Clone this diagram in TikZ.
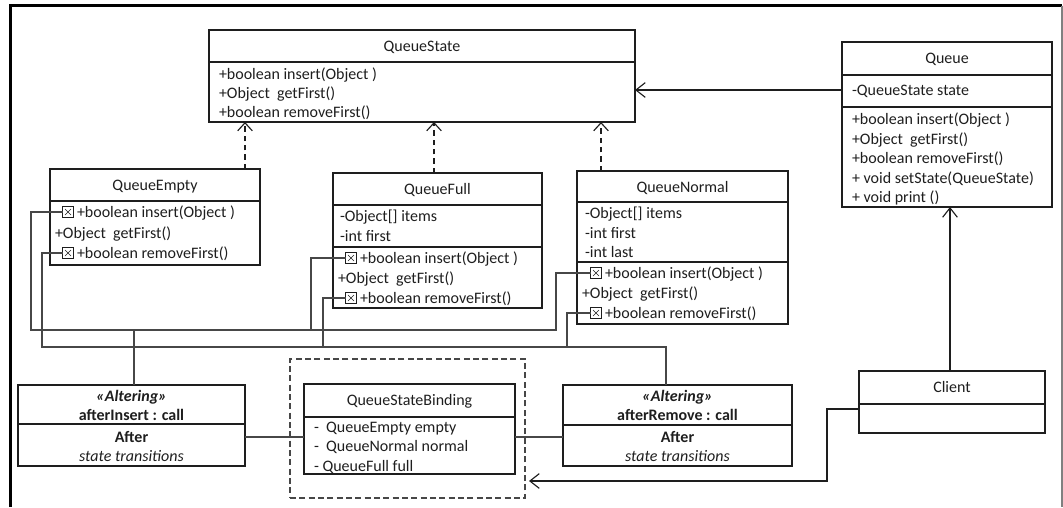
\documentclass[tikz,border=0pt]{standalone}
\usepackage{fontspec}
\setmainfont{Carlito}
\usetikzlibrary{arrows.meta,fit}
\definecolor{ink}{HTML}{1E1E1E}
\definecolor{wirec}{HTML}{474747}
\newcommand\umlfont{\fontsize{12}{14}\selectfont}

\begin{document}
\begin{tikzpicture}[x=0.75pt,y=-0.75pt,
  every node/.style={inner sep=0pt, outer sep=0pt},
  box/.style={draw=ink, line width=0.85pt, fit={#1}},
  sep/.style={draw=ink, line width=0.85pt},
  lbl/.style={anchor=base west, text=ink, font=\umlfont},
  ttl/.style={anchor=base, text=ink, font=\umlfont},
  xicon/.style={draw=ink, line width=0.55pt, minimum size=8pt,
    path picture={\draw[line width=0.5pt]
      ([shift={(1.8pt,1.8pt)}]path picture bounding box.south west) --
      ([shift={(-1.8pt,-1.8pt)}]path picture bounding box.north east)
      ([shift={(1.8pt,-1.8pt)}]path picture bounding box.north west) --
      ([shift={(-1.8pt,1.8pt)}]path picture bounding box.south east);}},
  real/.style={draw=ink, line width=0.85pt, dash pattern=on 4pt off 3pt,
    -{Straight Barb[length=6pt,width=11pt]}},
  assoc/.style={draw=ink, line width=0.85pt, -{Straight Barb[length=7pt,width=11pt]}},
  wire/.style={draw=wirec, line width=0.85pt},
  group/.style={draw=wirec, line width=0.9pt, dash pattern=on 4.5pt off 2.5pt, fit={#1}},
]
\useasboundingbox (0,0) rectangle (1063,507);

% outer frame
\draw[line width=1.6pt, draw=black] (10.5,507) -- (10.5,5.5) -- (1062,5.5);
\draw[line width=0.8pt, draw=gray] (1062,5.5) -- (1062,507);

% ---------- QueueState ----------
\node[box={(209,30)(635,122)}] (qs) {};
\draw[sep] (qs.west |- 0,62) -- (qs.east |- 0,62);
\node[ttl] (qs-t) at (422,51) {QueueState};
\node[lbl] (qs-1) at (219,79) {+boolean insert(Object )};
\node[lbl] (qs-2) at (219,98) {+Object\ \ getFirst()};
\node[lbl] (qs-3) at (219,117) {+boolean removeFirst()};

% ---------- Queue ----------
\node[box={(842,42)(1052,207)}] (q) {};
\draw[sep] (q.west |- 0,75) -- (q.east |- 0,75);
\draw[sep] (q.west |- 0,107) -- (q.east |- 0,107);
\node[ttl] (q-t) at (947,63) {Queue};
\node[lbl] (q-a) at (852,95) {-QueueState state};
\node[lbl] (q-1) at (852,124) {+boolean insert(Object )};
\node[lbl] (q-2) at (852,144) {+Object\ \ getFirst()};
\node[lbl] (q-3) at (852,163) {+boolean removeFirst()};
\node[lbl] (q-4) at (852,183) {+ void setState(QueueState)};
\node[lbl] (q-5) at (852,202) {+ void print ()};

% ---------- QueueEmpty ----------
\node[box={(50,169)(260,265)}] (qe) {};
\draw[sep] (qe.west |- 0,201) -- (qe.east |- 0,201);
\node[ttl] (qe-t) at (155,190) {QueueEmpty};
\node[xicon] (ei) at (68,212) {};
\node[lbl] (qe-1) at (77,217) {+boolean insert(Object )};
\node[lbl] (qe-2) at (55,238) {+Object\ \ getFirst()};
\node[xicon] (er) at (68,253) {};
\node[lbl] (qe-3) at (77,258) {+boolean removeFirst()};

% ---------- QueueFull ----------
\node[box={(333,173)(542,308)}] (qf) {};
\draw[sep] (qf.west |- 0,205) -- (qf.east |- 0,205);
\draw[sep] (qf.west |- 0,247) -- (qf.east |- 0,247);
\node[ttl] (qf-t) at (437.5,194) {QueueFull};
\node[lbl] (qf-a) at (340,221) {-Object[] items};
\node[lbl] (qf-b) at (340,241) {-int first};
\node[xicon] (fi) at (351,258) {};
\node[lbl] (qf-1) at (360,263) {+boolean insert(Object )};
\node[lbl] (qf-2) at (338,283) {+Object\ \ getFirst()};
\node[xicon] (fr) at (351,298) {};
\node[lbl] (qf-3) at (360,303) {+boolean removeFirst()};

% ---------- QueueNormal ----------
\node[box={(577,171)(788,324)}] (qn) {};
\draw[sep] (qn.west |- 0,202) -- (qn.east |- 0,202);
\draw[sep] (qn.west |- 0,262) -- (qn.east |- 0,262);
\node[ttl] (qn-t) at (682.5,192) {QueueNormal};
\node[lbl] (qn-a) at (585,218) {-Object[] items};
\node[lbl] (qn-b) at (585,238) {-int first};
\node[lbl] (qn-c) at (585,257) {-int last};
\node[xicon] (ni) at (596,273) {};
\node[lbl] (qn-1) at (605,278) {+boolean insert(Object )};
\node[lbl] (qn-2) at (582,298) {+Object\ \ getFirst()};
\node[xicon] (nr) at (596,313) {};
\node[lbl] (qn-3) at (605,318) {+boolean removeFirst()};

% ---------- afterInsert aspect ----------
\node[box={(18,385)(245,466)}] (ai) {};
\draw[sep] (ai.west |- 0,424) -- (ai.east |- 0,424);
\node[ttl, font=\umlfont\bfseries\itshape] (ai-s) at (131.5,401) {«Altering»};
\node[ttl, font=\umlfont\bfseries] (ai-n) at (131.5,420) {afterInsert : call};
\node[ttl, font=\umlfont\bfseries] (ai-k) at (131.5,442) {After};
\node[ttl, font=\umlfont\itshape] (ai-d) at (131.5,461) {state transitions};

% ---------- QueueStateBinding ----------
\node[group={(290,359)(525,498)}] (bind) {};
\node[box={(304,384)(515,474)}] (qsb) {};
\draw[sep] (qsb.west |- 0,417) -- (qsb.east |- 0,417);
\node[ttl] (qsb-t) at (409.5,405) {QueueStateBinding};
\node[lbl] (qsb-1) at (314,432) {-\ \ QueueEmpty empty};
\node[lbl] (qsb-2) at (314,451) {-\ \ QueueNormal normal};
\node[lbl] (qsb-3) at (314,471) {- QueueFull full};

% ---------- afterRemove aspect ----------
\node[box={(563,385)(792,466)}] (ar) {};
\draw[sep] (ar.west |- 0,425) -- (ar.east |- 0,425);
\node[ttl, font=\umlfont\bfseries\itshape] (ar-s) at (677.5,401) {«Altering»};
\node[ttl, font=\umlfont\bfseries] (ar-n) at (677.5,420) {afterRemove : call};
\node[ttl, font=\umlfont\bfseries] (ar-k) at (677.5,442) {After};
\node[ttl, font=\umlfont\itshape] (ar-d) at (677.5,461) {state transitions};

% ---------- Client ----------
\node[box={(859,371)(1045,433)}] (cl) {};
\draw[sep] (cl.west |- 0,404) -- (cl.east |- 0,404);
\node[ttl] (cl-t) at (952,392) {Client};

% ---------- realizations of QueueState ----------
\coordinate (rE) at (245,0);
\coordinate (rF) at (434,0);
\coordinate (rN) at (601,0);
\draw[real] (qe.north -| rE) -- (qs.south -| rE);
\draw[real] (qf.north -| rF) -- (qs.south -| rF);
\draw[real] (qn.north -| rN) -- (qs.south -| rN);

% ---------- associations ----------
\draw[assoc] (q.west |- 0,90) -- (qs.east |- 0,90);
\coordinate (cq) at (950,0);
\draw[assoc] (cl.north -| cq) -- (q.south -| cq);
\coordinate (cbend) at (827,481);
\coordinate (ctip) at (529,481);
\draw[assoc] (cl.west |- 0,409) -| (cbend) -- (ctip);

% ---------- aspect to binding links ----------
\draw[wire] (ai.east |- 0,437) -- (qsb.west |- 0,437);
\draw[wire] (qsb.east |- 0,437) -- (ar.west |- 0,437);

% ---------- insert pointcut ----------
\coordinate (insL) at (31,330);
\coordinate (insR) at (556,330);
\coordinate (insF) at (311,330);
\coordinate (insA) at (134,330);
\draw[wire] (ei.west) -| (insL) -- (insR) |- (ni.west);
\draw[wire] (fi.west) -| (insF);
\draw[wire] (insA) -- (ai.north -| insA);

% ---------- remove pointcut ----------
\coordinate (remL) at (42,347);
\coordinate (remR) at (666,347);
\coordinate (remF) at (323,347);
\coordinate (remN) at (567,347);
\draw[wire] (er.west) -| (remL) -- (remR) -- (ar.north -| remR);
\draw[wire] (fr.west) -| (remF);
\draw[wire] (nr.west) -| (remN);

\end{tikzpicture}
\end{document}
